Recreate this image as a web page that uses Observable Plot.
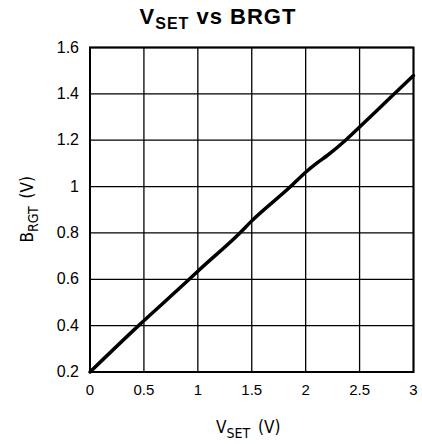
<!DOCTYPE html>
<html>
<head>
<meta charset="utf-8">
<script src="https://cdn.jsdelivr.net/npm/d3@7"></script>
<script src="https://cdn.jsdelivr.net/npm/@observablehq/plot@0.6"></script>
<style>
  html, body { margin: 0; padding: 0; background: #fff; }
  #wrap { width: 422px; height: 444px; position: relative; overflow: hidden; }
  #title { height: 36px; width: 422px; text-align: center; font-family: "Liberation Sans", Arial, sans-serif;
           font-weight: bold; font-size: 22px; line-height: 34px; letter-spacing: 1px; padding-left: 14px; box-sizing: border-box; }
  #title .sub { font-size: 16px; position: relative; top: 5px; }
  svg { display: block; }
</style>
</head>
<body>
<div id="wrap">
  <div id="title">V<span class="sub">SET</span> vs BRGT</div>
  <div id="chart"></div>
</div>
<script>
const vset = [0, 0.45, 0.92, 1.0, 1.39, 1.5, 1.86, 2.0, 2.1, 2.2, 2.37, 2.5, 2.75, 3.0];
const brgt = [0.2, 0.4, 0.6, 0.635, 0.8, 0.852, 1.0, 1.062, 1.1, 1.134, 1.2, 1.257, 1.368, 1.479];
const xTicks = [0, 0.5, 1, 1.5, 2, 2.5, 3];
const xTickLabels = ["0", "0.5", "1", "1.5", "2", "2.5", "3"];
const yTicks = [0.2, 0.4, 0.6, 0.8, 1.0, 1.2, 1.4, 1.6];
const yTickLabels = ["0.2", "0.4", "0.6", "0.8", "1", "1.2", "1.4", "1.6"];

const data = vset.map((v, i) => ({x: v, y: brgt[i]}));

const W = 422, H = 408;
const mL = 89.5, mR = 9, mT = 11, mB = 72.5;
const sans = "'Liberation Sans', Arial, sans-serif";
const labelFont = "'DejaVu Sans Condensed', 'DejaVu Sans', sans-serif";

const plot = Plot.plot({
  width: W, height: H,
  marginLeft: mL, marginRight: mR, marginTop: mT, marginBottom: mB,
  x: {domain: [0, 3]},
  y: {domain: [0.2, 1.6]},
  style: {background: "white"},
  marks: [
    Plot.gridX(xTicks, {stroke: "black", strokeOpacity: 1, strokeWidth: 1.3}),
    Plot.gridY(yTicks, {stroke: "black", strokeOpacity: 1, strokeWidth: 1.3}),
    Plot.axisX(xTicks, {tickSize: 0, tickPadding: 12, label: null,
      tickFormat: d => xTickLabels[xTicks.indexOf(d)],
      fontSize: 15, fontFamily: sans, fill: "black"}),
    Plot.axisY(yTicks, {tickSize: 0, tickPadding: 11, label: null,
      tickFormat: d => yTickLabels[yTicks.indexOf(d)],
      fontSize: 16, fontFamily: sans, fill: "black"}),
    Plot.line(data, {x: "x", y: "y", stroke: "black", strokeWidth: 3.5, strokeLinejoin: "round", curve: "monotone-x"}),
    Plot.frame({stroke: "black", strokeWidth: 2})
  ]
});

document.getElementById("chart").appendChild(plot);

const svg = d3.select(plot);
const xr = plot.scale("x").range;
const yr = plot.scale("y").range;
const cx = (xr[0] + xr[1]) / 2;
const cy = (yr[0] + yr[1]) / 2;

// x-axis label
const xl = svg.append("text")
  .attr("x", cx - 3).attr("y", yr[0] + 61)
  .attr("text-anchor", "middle")
  .attr("font-family", labelFont)
  .attr("font-size", 17).attr("fill", "black");
xl.append("tspan").text("V");
xl.append("tspan").attr("font-size", 14).attr("dy", 5).text("SET");
xl.append("tspan").attr("dy", -5).text("\u2009 (V)");

// y-axis label
const yl = svg.append("text")
  .attr("transform", `translate(${33},${cy}) rotate(-90)`)
  .attr("text-anchor", "middle")
  .attr("font-family", labelFont)
  .attr("font-size", 17).attr("fill", "black");
yl.append("tspan").text("B");
yl.append("tspan").attr("font-size", 14).attr("dy", 5).text("RGT");
yl.append("tspan").attr("dy", -5).text("\u2009 (V)");
</script>
</body>
</html>
